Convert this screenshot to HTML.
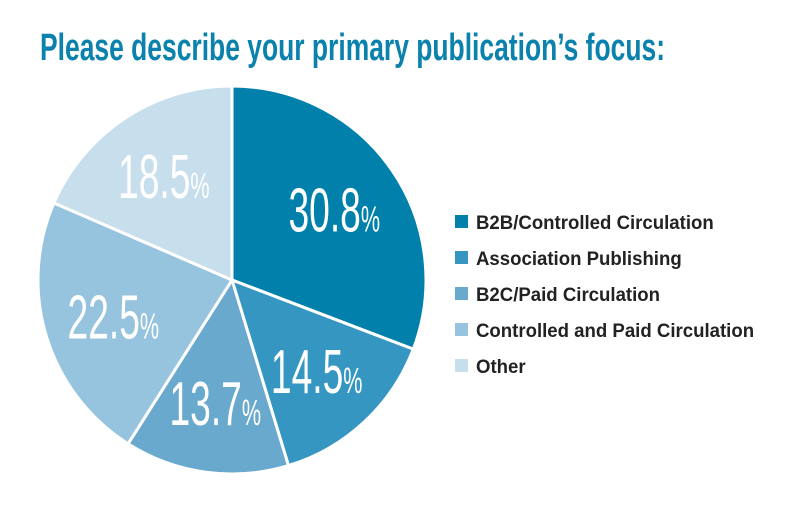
<!DOCTYPE html>
<html><head><meta charset="utf-8"><style>
body{margin:0;background:#fff;}
svg{display:block;}
</style></head><body>
<svg id="chart" width="800" height="512" viewBox="0 0 800 512" xmlns="http://www.w3.org/2000/svg">
<text x="40" y="60" font-family="'Liberation Sans',sans-serif" font-weight="bold" font-size="38" fill="#0a82ad" textLength="625" lengthAdjust="spacingAndGlyphs">Please describe your primary publication’s focus:</text>
<g id="slices"></g>
<g id="labels"></g>
<g id="legend"></g>
</svg>
<script>
const categories=["B2B/Controlled Circulation","Association Publishing","B2C/Paid Circulation","Controlled and Paid Circulation","Other"];
const values=[30.8,14.5,13.7,22.5,18.5];
const valueLabels=["30.8","14.5","13.7","22.5","18.5"];
const colors=["#0080ab","#3597c1","#68a9cd","#96c3de","#c7deec"];
const NS="http://www.w3.org/2000/svg";
const cx=232,cy=280,r=194;
const total=values.reduce((a,b)=>a+b,0);
const gS=document.getElementById('slices'),gL=document.getElementById('labels'),gG=document.getElementById('legend');
let a0=0;
function pt(a,rr){return [cx+rr*Math.sin(a),cy-rr*Math.cos(a)];}
values.forEach((v,i)=>{
 const a1=a0+v/total*2*Math.PI;
 const p0=pt(a0,r),p1=pt(a1,r);
 const p=document.createElementNS(NS,'path');
 p.setAttribute('d',`M${cx},${cy}L${p0[0]},${p0[1]}A${r},${r} 0 ${a1-a0>Math.PI?1:0} 1 ${p1[0]},${p1[1]}Z`);
 p.setAttribute('fill',colors[i]);p.setAttribute('stroke','#fff');p.setAttribute('stroke-width','3');
 
 
 gS.appendChild(p);
 const m=(a0+a1)/2;const lp=pt(m,r*0.64);
 const t=document.createElementNS(NS,'text');
 t.setAttribute('x',0);t.setAttribute('y',22);
 t.setAttribute('transform',`translate(${lp[0]},${lp[1]}) scale(0.6,1)`);
 t.setAttribute('text-anchor','middle');t.setAttribute('fill','#fff');
 t.setAttribute('font-family',"'Liberation Sans',sans-serif");
 t.setAttribute('font-size','62');
 
 
 t.innerHTML=valueLabels[i]+'<tspan font-size="36">%</tspan>';
 gL.appendChild(t);
 a0=a1;
});
categories.forEach((c,i)=>{
 const y=222+i*36;
 const s=document.createElementNS(NS,'rect');
 s.setAttribute('x',455);s.setAttribute('y',y-7);s.setAttribute('width',13);s.setAttribute('height',13);s.setAttribute('fill',colors[i]);
 
 
 gG.appendChild(s);
 const t=document.createElementNS(NS,'text');
 t.setAttribute('x',476);t.setAttribute('y',y+7);t.setAttribute('fill','#222');
 t.setAttribute('font-family',"'Liberation Sans',sans-serif");
 t.setAttribute('font-weight','bold');t.setAttribute('font-size','19');
 t.setAttribute('transform',`translate(476,0) scale(0.98,1) translate(-476,0)`);
 
 
 t.textContent=c;
 gG.appendChild(t);
});
</script>
</body></html>
